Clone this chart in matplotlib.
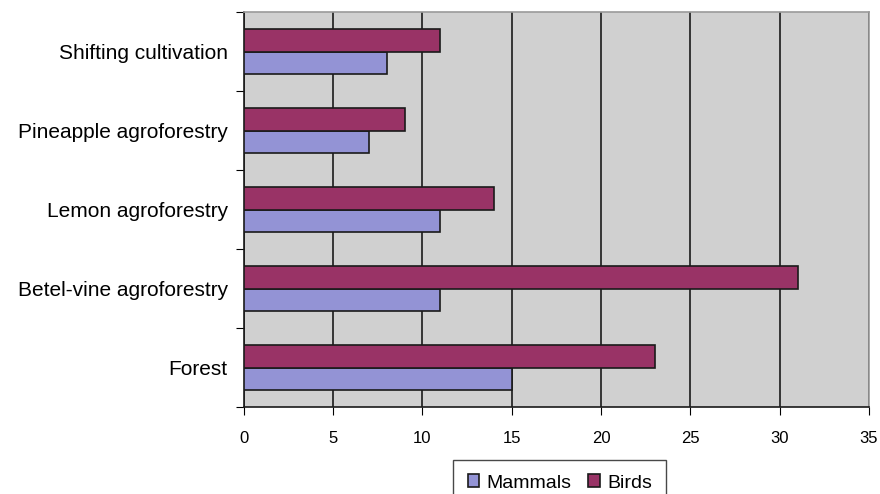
import matplotlib
matplotlib.use("Agg")
import matplotlib.pyplot as plt
import numpy as np

categories = ["Forest", "Betel-vine agroforestry", "Lemon agroforestry",
              "Pineapple agroforestry", "Shifting cultivation"]
mammals = [15, 11, 11, 7, 8]
birds = [23, 31, 14, 9, 11]

plt.rcParams["font.family"] = ["Liberation Sans", "DejaVu Sans"]

fig = plt.figure(figsize=(8.8, 4.94), dpi=100)
ax = fig.add_axes([0.277, 0.176, 0.7105, 0.7997])
ax.set_facecolor("#d0d0d0")

y = np.arange(len(categories))
h = 0.28
ax.barh(y - h / 2, mammals, height=h, color="#9393d5", edgecolor="#1a1a1a",
        linewidth=1.2, label="Mammals", zorder=3)
ax.barh(y + h / 2, birds, height=h, color="#993366", edgecolor="#1a1a1a",
        linewidth=1.2, label="Birds", zorder=3)

ax.set_xlim(0, 35)
ax.set_ylim(-0.5, len(categories) - 0.5)
ax.set_xticks(range(0, 36, 5))
ax.tick_params(axis="x", labelsize=12, length=6, direction="out", pad=11)
ax.xaxis.grid(True, color="#1a1a1a", linewidth=1.2, zorder=1)
ax.set_axisbelow(True)

# category labels sit at the group centres, tick marks between groups
ax.set_yticks(np.arange(-0.5, len(categories), 1.0))
ax.set_yticklabels([])
ax.tick_params(axis="y", length=6, direction="out")
ax.set_yticks(y, minor=True)
ax.set_yticklabels(categories, minor=True, fontsize=15)
ax.tick_params(axis="y", which="minor", length=0, pad=11.5)

for side in ("top", "right"):
    ax.spines[side].set_color("#9a9a9a")
    ax.spines[side].set_linewidth(1.2)
for side in ("left", "bottom"):
    ax.spines[side].set_color("#1a1a1a")
    ax.spines[side].set_linewidth(1.2)

leg = fig.legend(loc="upper center", bbox_to_anchor=(0.636, 0.069), ncol=2,
                 fontsize=14, frameon=True, fancybox=False, handlelength=0.6,
                 handleheight=0.6, handletextpad=0.35, columnspacing=0.9,
                 borderpad=0.75, borderaxespad=0)
leg.get_frame().set_edgecolor("#1a1a1a")
leg.get_frame().set_linewidth(1.0)

fig.savefig("out.png", dpi=100)
